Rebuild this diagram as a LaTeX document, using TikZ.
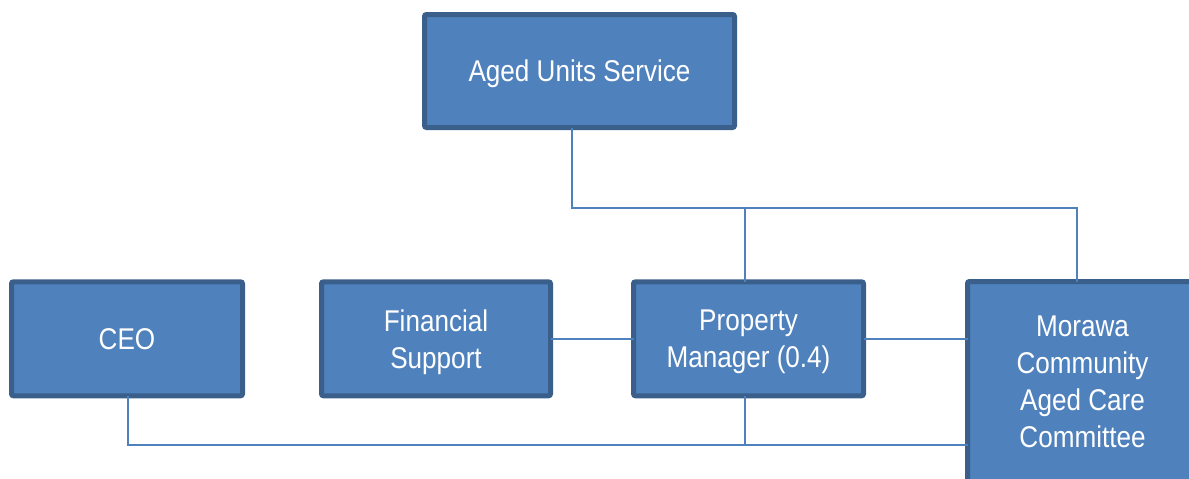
\documentclass[tikz,border=0pt]{standalone}
\usepackage{fontspec}
\setmainfont[FakeStretch=0.87]{Liberation Sans}
\usetikzlibrary{calc}
\definecolor{boxfill}{HTML}{4F81BD}
\definecolor{boxedge}{HTML}{3A5F8B}
\definecolor{linkcol}{HTML}{4F81BD}
\tikzset{
  unit/.style={draw=boxedge, fill=boxfill, line width=5pt, rounded corners=2pt,
    text=white, align=center, inner sep=0pt, outer sep=0pt, text depth=0pt,
    font=\fontsize{30}{37}\selectfont},
  link/.style={draw=linkcol, line width=1.8pt}
}
\begin{document}
\begin{tikzpicture}[x=1pt,y=-1pt]
\useasboundingbox (0,0) rectangle (1189,479);
\clip (0,0) rectangle (1189,479);
% organisation units
\node[unit, minimum width=310pt, minimum height=113pt] (aus) at (579.5,71) {Aged Units Service};
\node[unit, minimum width=231pt, minimum height=114pt] (ceo) at (127,338.8) {CEO};
\node[unit, minimum width=229pt, minimum height=114pt] (fin) at (436,338.8) {Financial\\Support};
\node[unit, minimum width=230pt, minimum height=114pt] (pm) at (748.5,338.8) {Property\\Manager (0.4)};
\node[unit, minimum width=230pt, minimum height=200pt] (mcac) at (1082.5,381.5) {Morawa\\Community\\Aged Care\\Committee};
% reporting lines
\coordinate (bus) at (572,208);
\coordinate (base) at (128,445);
\begin{scope}[on background layer/.try]
\draw[link] ([xshift=-7.5pt]aus.south) -- (bus) -| ([xshift=-5.5pt]mcac.north);
\draw[link] (bus -| pm.north) ++(-3.5pt,0) -- ([xshift=-3.5pt]pm.north);
\draw[link] (fin.east) -- (pm.west);
\draw[link] (pm.east) -- (mcac.west |- pm.east);
\draw[link] (ceo.south) ++(1pt,0) |- (base -| mcac.west);
\draw[link] ([xshift=-3.5pt]pm.south) -- ([xshift=-3.5pt]pm.south |- base);
\end{scope}
\end{tikzpicture}
\end{document}
